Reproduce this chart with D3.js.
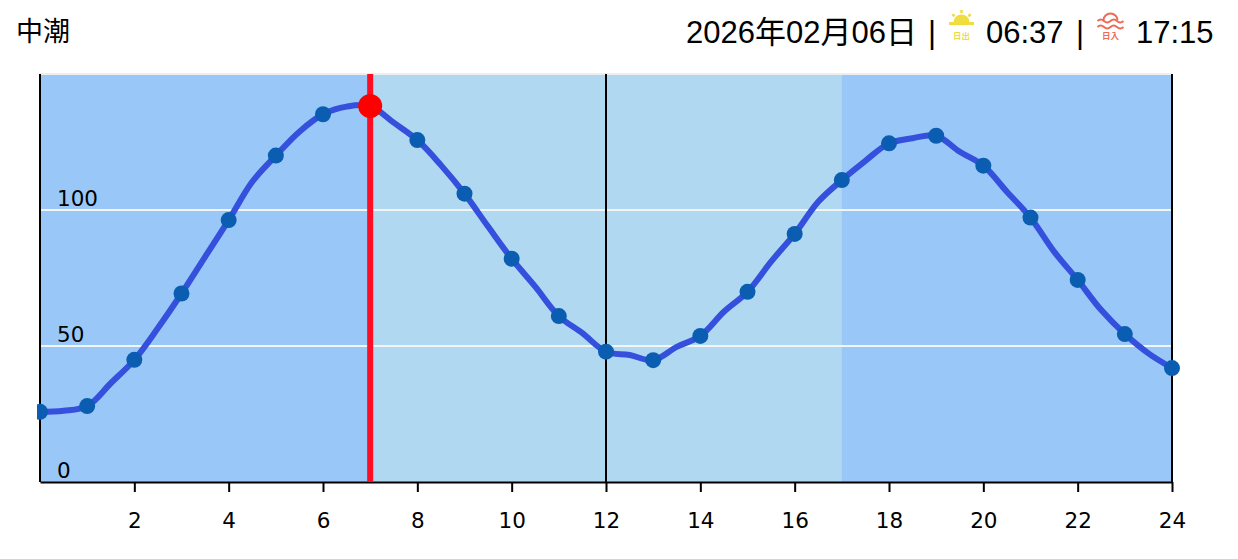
<!DOCTYPE html>
<html>
<head>
<meta charset="utf-8">
<script src="https://cdn.jsdelivr.net/npm/d3@7"></script>
<style>
  html, body { margin: 0; padding: 0; background: #fff; }
  svg { display: block; }
  .head { font-family: "Liberation Sans", "Noto Sans CJK JP", sans-serif; font-size: 31px; fill: #000; }
  .tick-label { font-family: "DejaVu Sans", sans-serif; font-size: 21.5px; fill: #000; }
  .icon-label { font-family: "Noto Sans CJK JP", sans-serif; font-size: 8.5px; font-weight: 700; text-anchor: middle; }
</style>
</head>
<body>
<div id="chart"></div>
<script>
const hours = d3.range(0, 25);
const tide = [25.8, 27.9, 44.9, 69.3, 96.3, 120, 135.2, 138.2, 125.7, 106, 82.1, 61, 47.9, 44.8, 53.7, 69.9, 91.2, 111, 124.5, 127.3, 116.3, 97.2, 74.3, 54.4, 41.9];
// readings between the hourly dots, the curve passes through these too
const halfHours = d3.range(0.5, 24, 1);
const tideHalf = [26.2, 36.3, 56.6, 82.8, 110.4, 128.8, 138, 132.1, 116.5, 93.9, 71.8, 54.7, 46.7, 49.7, 62.6, 81, 103, 118.1, 126.4, 121.4, 106.7, 84.7, 63.2, 47.3];
const xTicks = d3.range(2, 25, 2);
const yTicks = [0, 50, 100];
const dayBand = [7, 17];
const nowHour = 7;
const noonHour = 12;
const tideName = "中潮";
const dateLabel = "2026年02月06日";
const sunrise = "06:37";
const sunset = "17:15";

const width = 1238, height = 559;
const margin = { top: 74, right: 66, bottom: 77, left: 40 };

const x = d3.scaleLinear([0, 24], [margin.left, width - margin.right]);
const y = d3.scaleLinear([0, 150], [height - margin.bottom, margin.top]);

const svg = d3.select("#chart").append("svg")
  .attr("width", width)
  .attr("height", height);

// clip is a bit wider than the plot so the first dot pokes out
svg.append("clipPath").attr("id", "plot-clip")
  .append("rect")
  .attr("x", margin.left - 3)
  .attr("y", margin.top)
  .attr("width", width - margin.left - margin.right + 12)
  .attr("height", height - margin.top - margin.bottom);

// night / day bands
svg.append("rect")
  .attr("x", x(0)).attr("y", y(150))
  .attr("width", x(24) - x(0)).attr("height", y(0) - y(150))
  .attr("fill", "#99c8f8");
svg.append("rect")
  .attr("x", x(dayBand[0])).attr("y", y(150))
  .attr("width", x(dayBand[1]) - x(dayBand[0])).attr("height", y(0) - y(150))
  .attr("fill", "#b0d8f1");

// top edge
svg.append("line")
  .attr("x1", x(0)).attr("x2", x(24))
  .attr("y1", y(150)).attr("y2", y(150))
  .attr("stroke", "#eeeeee").attr("stroke-width", 2);

// horizontal grid
svg.append("g").selectAll("line")
  .data(yTicks.filter(d => d > 0))
  .join("line")
  .attr("x1", x(0)).attr("x2", x(24))
  .attr("y1", d => y(d)).attr("y2", d => y(d))
  .attr("stroke", "#f2f4f6").attr("stroke-width", 2);

// vertical rules
svg.append("g").selectAll("line")
  .data([0, noonHour, 24])
  .join("line")
  .attr("x1", d => x(d)).attr("x2", d => x(d))
  .attr("y1", y(150)).attr("y2", y(0))
  .attr("stroke", "#000").attr("stroke-width", 2);

// x axis
const xAxis = d3.axisBottom(x).tickValues(xTicks).tickSize(10).tickPadding(21).tickSizeOuter(0);
svg.append("g")
  .attr("transform", `translate(0,${y(0)})`)
  .call(xAxis)
  .call(g => g.selectAll("path,line").attr("stroke", "#000").attr("stroke-width", 2))
  .call(g => g.selectAll("text").attr("class", "tick-label").attr("fill", "#000"));

// y labels sit inside the plot, above each gridline
svg.append("g").selectAll("text")
  .data(yTicks)
  .join("text")
  .attr("class", "tick-label")
  .attr("x", x(0) + 17)
  .attr("y", d => y(d) - 4)
  .text(d => d);

// tide curve
const curvePoints = d3.sort(
  hours.map((h, i) => [h, tide[i]]).concat(halfHours.map((h, i) => [h, tideHalf[i]])),
  d => d[0]
);
const line = d3.line().x(d => x(d[0])).y(d => y(d[1])).curve(d3.curveCatmullRom.alpha(0.5));
const plot = svg.append("g").attr("clip-path", "url(#plot-clip)");
plot.append("path")
  .datum(curvePoints)
  .attr("d", line)
  .attr("fill", "none")
  .attr("stroke", "#3450dc")
  .attr("stroke-width", 6);

// current time
svg.append("line")
  .attr("x1", x(nowHour)).attr("x2", x(nowHour))
  .attr("y1", y(150)).attr("y2", y(0))
  .attr("stroke", "#ff0d25").attr("stroke-width", 6);

plot.selectAll("circle")
  .data(hours.filter(h => h !== nowHour))
  .join("circle")
  .attr("cx", h => x(h))
  .attr("cy", h => y(tide[h]))
  .attr("r", 8)
  .attr("fill", "#0a5db0");

svg.append("circle")
  .attr("cx", x(nowHour))
  .attr("cy", y(tide[nowHour]))
  .attr("r", 12)
  .attr("fill", "#ff0000");

// header
svg.append("text").attr("class", "head").attr("x", 16).attr("y", 41)
  .style("font-size", "27px").text(tideName);
svg.append("text").attr("class", "head").attr("x", 686).attr("y", 43).text(dateLabel);
svg.append("text").attr("class", "head").attr("x", 928).attr("y", 43).text("|");
svg.append("text").attr("class", "head").attr("x", 986).attr("y", 43).text(sunrise);
svg.append("text").attr("class", "head").attr("x", 1076).attr("y", 43).text("|");
svg.append("text").attr("class", "head").attr("x", 1136).attr("y", 43).text(sunset);

// sunrise icon
const riseColor = "#f0dd40";
const rise = svg.append("g").attr("transform", "translate(961.5,22)");
rise.append("path").attr("d", "M-8,0 A8,7.5 0 0 1 8,0 Z").attr("fill", riseColor);
rise.append("rect").attr("x", -12.5).attr("y", 0).attr("width", 25).attr("height", 3).attr("fill", riseColor);
rise.selectAll("line").data([-90, -40, -140]).join("line")
  .attr("x1", d => 9 * Math.cos(d * Math.PI / 180)).attr("y1", d => 9 * Math.sin(d * Math.PI / 180))
  .attr("x2", d => 12 * Math.cos(d * Math.PI / 180)).attr("y2", d => 12 * Math.sin(d * Math.PI / 180))
  .attr("stroke", riseColor).attr("stroke-width", 2.5);
rise.append("text").attr("class", "icon-label").attr("y", 17).attr("fill", riseColor).text("日出");

// sunset icon
const setColor = "#ee6a55";
const set = svg.append("g").attr("transform", "translate(1110.5,21)");
set.append("path").attr("d", "M-7,-1 A7,6.5 0 0 1 7,-1").attr("fill", "none").attr("stroke", setColor).attr("stroke-width", 2);
set.selectAll("path.wave").data([0, 6]).join("path").attr("class", "wave")
  .attr("d", d => `M-13,${d} q3.2,-3 6.5,0 t6.5,0 t6.5,0 t6.5,0`)
  .attr("fill", "none").attr("stroke", setColor).attr("stroke-width", 2);
set.append("text").attr("class", "icon-label").attr("y", 18).attr("fill", setColor).text("日入");
</script>
</body>
</html>
